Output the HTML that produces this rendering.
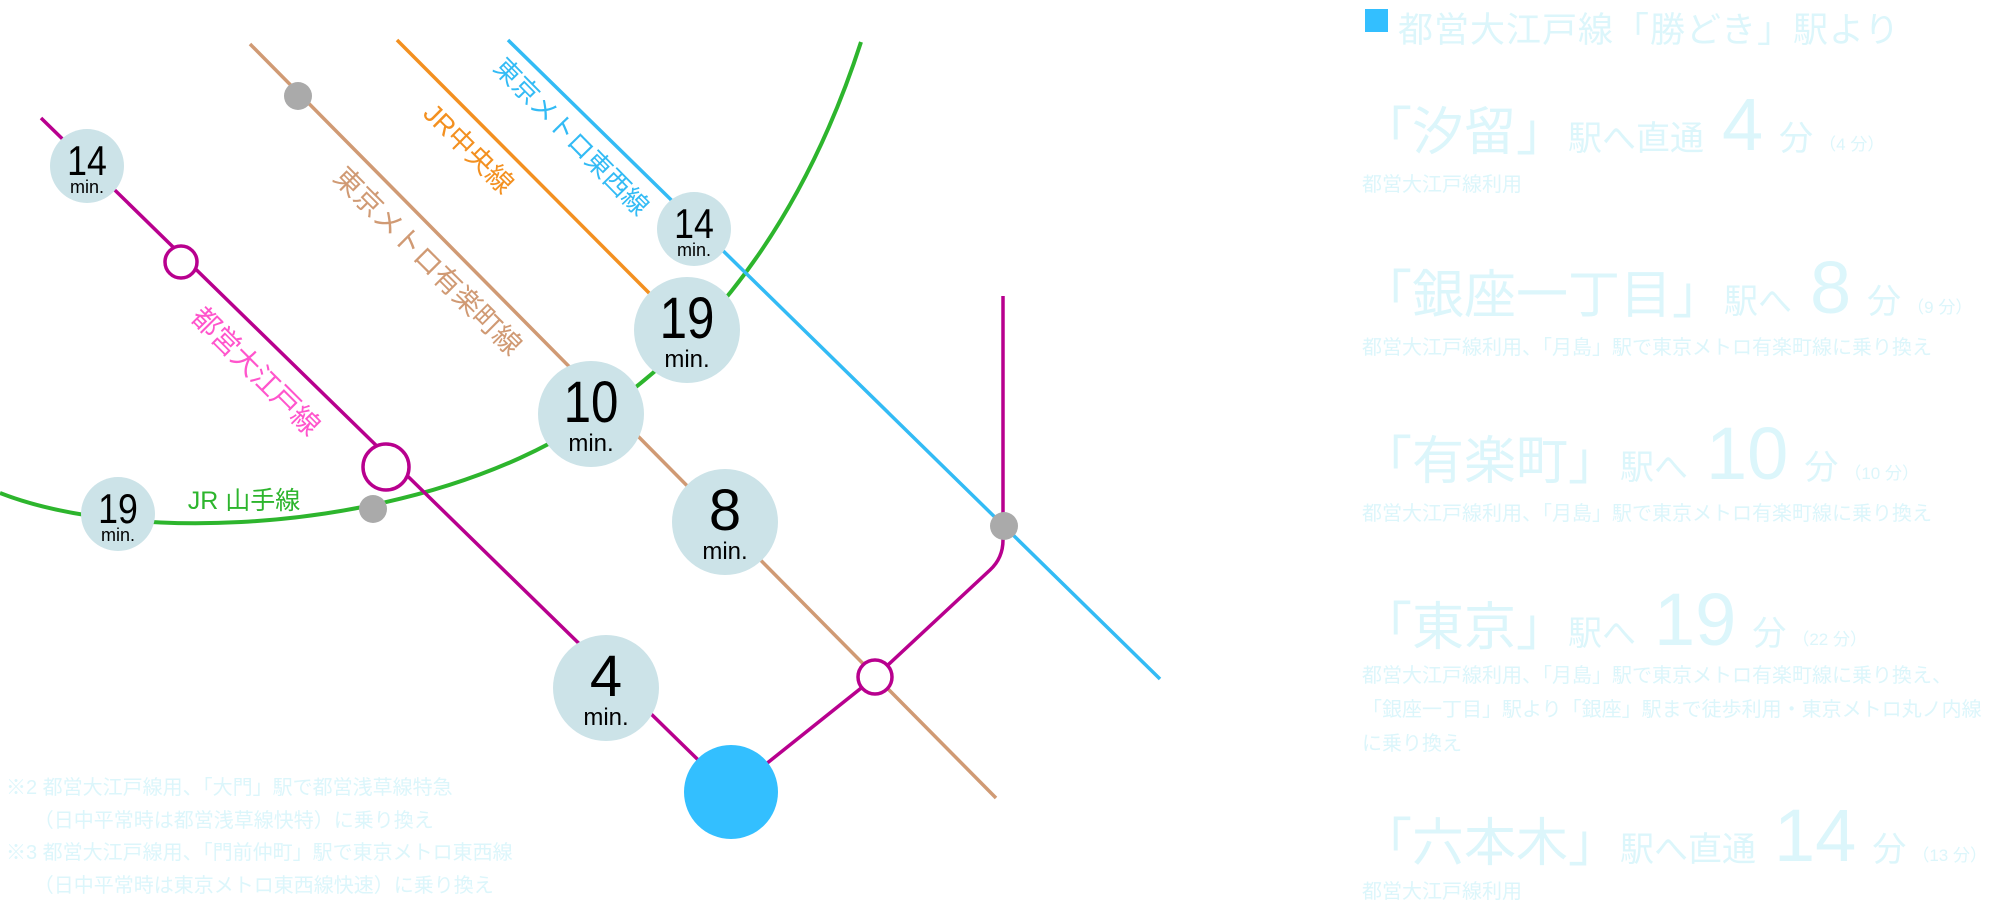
<!DOCTYPE html>
<html><head><meta charset="utf-8"><style>
html,body{margin:0;padding:0;background:#fff;}
body{width:2000px;height:908px;position:relative;overflow:hidden;font-family:"Liberation Sans","Noto Sans CJK JP",sans-serif;}
svg{position:absolute;left:0;top:0;}
.num{font-family:"Liberation Sans Narrow","Liberation Sans",sans-serif;fill:#000;text-anchor:middle;}
.p{position:absolute;color:#dcf6fb;white-space:nowrap;font-family:"Liberation Sans","Noto Sans CJK JP",sans-serif;}
.big{font-size:52px;}
.mid{font-size:34px;}
.n{font-size:74px;margin:0 16px 0 18px;font-weight:300;}
.sm{font-size:17px;margin-left:6px;}
.sub{font-size:20px;line-height:34px;}
</style></head><body>
<svg width="2000" height="908" viewBox="0 0 2000 908">
<g fill="none" stroke-linecap="butt">
<path d="M0,493 C120,540 350,535 520,458 C690,380 800,230 861,42" stroke="#2db52d" stroke-width="4"/>
<line x1="250" y1="44" x2="996" y2="798" stroke="#d09a74" stroke-width="3.5"/>
<line x1="397" y1="40" x2="660" y2="304" stroke="#f39020" stroke-width="3.5"/>
<line x1="508" y1="40" x2="1160" y2="679" stroke="#33bbf5" stroke-width="3.5"/>
<line x1="41" y1="118" x2="731" y2="792" stroke="#b8008e" stroke-width="3.5"/>
<path d="M731,792 L875,677 L990,570 Q1003,558 1003,540 L1003,296" stroke="#b8008e" stroke-width="3.5"/>
</g>
<circle cx="298" cy="96" r="14" fill="#aaa"/>
<circle cx="373" cy="509" r="14" fill="#aaa"/>
<circle cx="1004" cy="526" r="14" fill="#aaa"/>
<circle cx="181" cy="262" r="16" fill="#fff" stroke="#b8008e" stroke-width="3.5"/>
<circle cx="386" cy="467" r="23" fill="#fff" stroke="#b8008e" stroke-width="3.5"/>
<circle cx="875" cy="677" r="17" fill="#fff" stroke="#b8008e" stroke-width="3.5"/>
<circle cx="731" cy="792" r="47" fill="#33bfff"/>
<g fill="#cce3e8">
<circle cx="87" cy="166" r="37"/>
<circle cx="118" cy="514" r="37"/>
<circle cx="694" cy="229" r="37"/>
<circle cx="687" cy="330" r="53"/>
<circle cx="591" cy="414" r="53"/>
<circle cx="725" cy="522" r="53"/>
<circle cx="606" cy="688" r="53"/>
</g>
<g class="num">
<text x="87" y="175" font-size="42" transform="translate(87,0) scale(0.85,1) translate(-87,0)">14</text><text x="87" y="193" font-size="18">min.</text>
<text x="118" y="523" font-size="42" transform="translate(118,0) scale(0.85,1) translate(-118,0)">19</text><text x="118" y="541" font-size="18">min.</text>
<text x="694" y="238" font-size="42" transform="translate(694,0) scale(0.85,1) translate(-694,0)">14</text><text x="694" y="256" font-size="18">min.</text>
<text x="687" y="338" font-size="58" transform="translate(687,0) scale(0.85,1) translate(-687,0)">19</text><text x="687" y="367" font-size="24">min.</text>
<text x="591" y="422" font-size="58" transform="translate(591,0) scale(0.85,1) translate(-591,0)">10</text><text x="591" y="451" font-size="24">min.</text>
<text x="725" y="530" font-size="58">8</text><text x="725" y="559" font-size="24">min.</text>
<text x="606" y="696" font-size="58">4</text><text x="606" y="725" font-size="24">min.</text>
</g>
<g font-family="Liberation Sans, Noto Sans CJK JP, sans-serif" text-anchor="middle">
<text x="0" y="0" font-size="26" fill="#33bbf5" transform="translate(565,143) rotate(45.5)">東京メトロ東西線</text>
<text x="0" y="0" font-size="27" fill="#f39020" transform="translate(462,155) rotate(45)">JR中央線</text>
<text x="0" y="0" font-size="28" fill="#d09a74" transform="translate(421,268) rotate(45)">東京メトロ有楽町線</text>
<text x="0" y="0" font-size="28" fill="#ff55cc" transform="translate(249,378) rotate(45)">都営大江戸線</text>
<text x="244" y="509" font-size="25" fill="#2db52d">JR 山手線</text>
</g>
</svg>

<div style="position:absolute;left:1365px;top:9px;width:23px;height:23px;background:#33bfff"></div>
<div class="p" style="left:1398px;top:2px;font-size:35px;letter-spacing:1px;">都営大江戸線「勝どき」駅より</div>

<div class="p" style="left:1360px;top:82px;"><span class="big">「汐留」</span><span class="mid">駅へ直通</span><span class="n">4</span><span class="mid">分</span><span class="sm">（4 分）</span></div>
<div class="p sub" style="left:1362px;top:168px;">都営大江戸線利用</div>

<div class="p" style="left:1360px;top:245px;"><span class="big">「銀座一丁目」</span><span class="mid">駅へ</span><span class="n">8</span><span class="mid">分</span><span class="sm">（9 分）</span></div>
<div class="p sub" style="left:1362px;top:331px;">都営大江戸線利用、「月島」駅で東京メトロ有楽町線に乗り換え</div>

<div class="p" style="left:1360px;top:411px;"><span class="big">「有楽町」</span><span class="mid">駅へ</span><span class="n">10</span><span class="mid">分</span><span class="sm">（10 分）</span></div>
<div class="p sub" style="left:1362px;top:497px;">都営大江戸線利用、「月島」駅で東京メトロ有楽町線に乗り換え</div>

<div class="p" style="left:1360px;top:577px;"><span class="big">「東京」</span><span class="mid">駅へ</span><span class="n">19</span><span class="mid">分</span><span class="sm">（22 分）</span></div>
<div class="p sub" style="left:1362px;top:659px;">都営大江戸線利用、「月島」駅で東京メトロ有楽町線に乗り換え、<br>「銀座一丁目」駅より「銀座」駅まで徒歩利用・東京メトロ丸ノ内線<br>に乗り換え</div>

<div class="p" style="left:1360px;top:793px;"><span class="big">「六本木」</span><span class="mid">駅へ直通</span><span class="n">14</span><span class="mid">分</span><span class="sm">（13 分）</span></div>
<div class="p sub" style="left:1362px;top:875px;">都営大江戸線利用</div>

<div class="p" style="left:6px;top:772px;font-size:20px;line-height:32.5px;">※2 都営大江戸線用、「大門」駅で都営浅草線特急<br>&nbsp;&nbsp;&nbsp;&nbsp;&nbsp;（日中平常時は都営浅草線快特）に乗り換え<br>※3 都営大江戸線用、「門前仲町」駅で東京メトロ東西線<br>&nbsp;&nbsp;&nbsp;&nbsp;&nbsp;（日中平常時は東京メトロ東西線快速）に乗り換え</div>
</body></html>
